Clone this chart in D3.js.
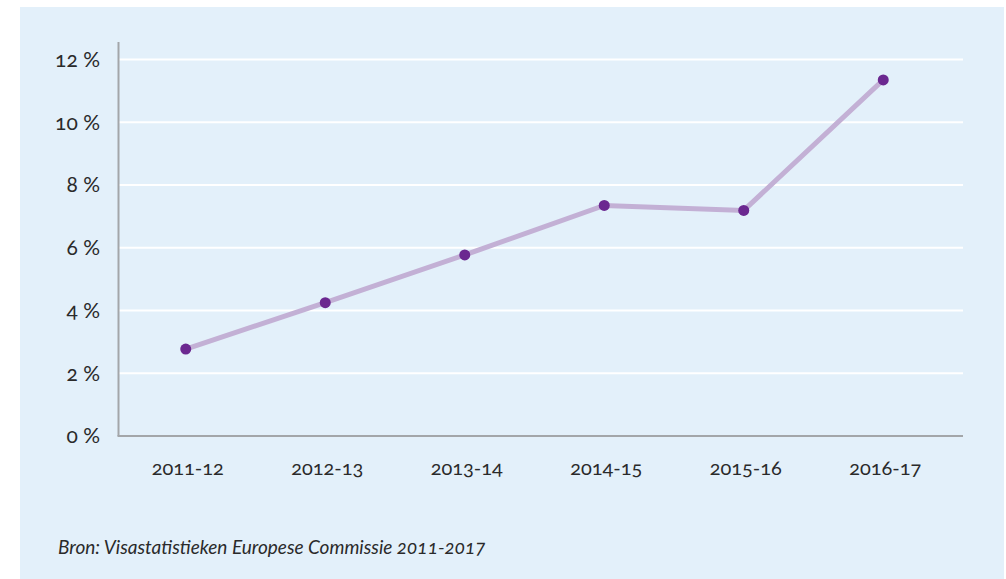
<!DOCTYPE html>
<html>
<head>
<meta charset="utf-8">
<script src="https://cdn.jsdelivr.net/npm/d3@7"></script>
<style>
  body { margin: 0; background: #ffffff; }
  svg text { font-family: Lato, "Open Sans", sans-serif; fill: #2a2a2a; font-variant-numeric: oldstyle-nums; }
</style>
</head>
<body>
<svg id="chart" width="1006" height="579"></svg>
<script>
// data
const years = ["2011-12", "2012-13", "2013-14", "2014-15", "2015-16", "2016-17"];
const shares = [2.77, 4.25, 5.77, 7.35, 7.19, 11.35];
const yTicks = [0, 2, 4, 6, 8, 10, 12];
const sourceNote = "Bron: Visastatistieken Europese Commissie 2011-2017";

const svg = d3.select("#chart");

// light blue panel
svg.append("rect")
  .attr("x", 20).attr("y", 7)
  .attr("width", 984).attr("height", 572)
  .attr("fill", "#e3f0fa");

const axisLeft = 118.5, axisRight = 963;
const x = d3.scaleBand().domain(years).range([116, 953]);
const y = d3.scaleLinear().domain([0, 12]).range([436, 59.5]);

// grid lines
svg.append("g")
  .selectAll("line")
  .data(yTicks.filter(d => d > 0))
  .join("line")
  .attr("x1", axisLeft).attr("x2", axisRight)
  .attr("y1", d => y(d)).attr("y2", d => y(d))
  .attr("stroke", "#ffffff")
  .attr("stroke-width", 2);

// axes lines
svg.append("line")
  .attr("x1", axisLeft).attr("x2", axisLeft)
  .attr("y1", 42).attr("y2", y(0))
  .attr("stroke", "#a3a6a9").attr("stroke-width", 2);
svg.append("line")
  .attr("x1", axisLeft - 1).attr("x2", axisRight)
  .attr("y1", y(0)).attr("y2", y(0))
  .attr("stroke", "#a3a6a9").attr("stroke-width", 2);

// y labels
svg.append("g")
  .selectAll("text")
  .data(yTicks)
  .join("text")
  .attr("x", 100)
  .attr("y", d => y(d))
  .attr("dy", "0.35em")
  .attr("text-anchor", "end")
  .style("font-size", "21px")
  .text(d => d + " %");

// x labels
svg.append("g")
  .selectAll("text")
  .data(years)
  .join("text")
  .attr("x", d => x(d) + x.bandwidth() / 2 + 2)
  .attr("y", 468)
  .attr("dy", "0.35em")
  .attr("text-anchor", "middle")
  .style("font-size", "20px")
  .text(d => d);

const pts = years.map((d, i) => ({ year: d, value: shares[i] }));

const line = d3.line()
  .x(d => x(d.year) + x.bandwidth() / 2)
  .y(d => y(d.value));

svg.append("path")
  .datum(pts)
  .attr("d", line)
  .attr("fill", "none")
  .attr("stroke", "#c3b0d5")
  .attr("stroke-width", 5);

svg.append("g")
  .selectAll("circle")
  .data(pts)
  .join("circle")
  .attr("cx", d => x(d.year) + x.bandwidth() / 2)
  .attr("cy", d => y(d.value))
  .attr("r", 5.5)
  .attr("fill", "#6b2890");

// source
svg.append("text")
  .attr("x", 58)
  .attr("y", 547)
  .attr("dy", "0.35em")
  .style("font-size", "19px")
  .style("font-style", "italic")
  .text(sourceNote);
</script>
</body>
</html>
